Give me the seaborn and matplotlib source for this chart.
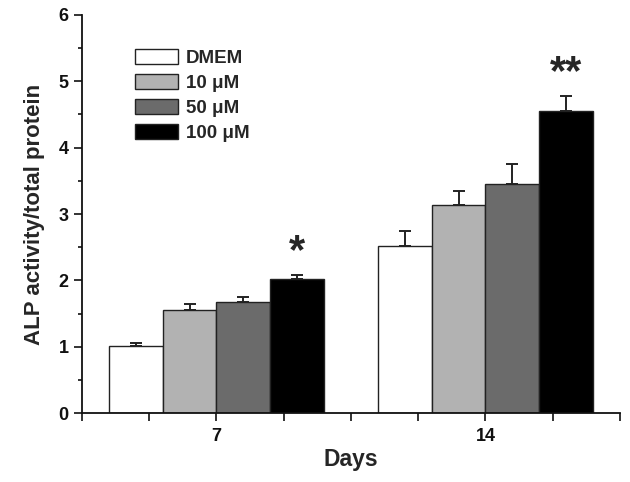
import numpy as np
import pandas as pd
import seaborn as sns
import matplotlib.pyplot as plt
from matplotlib.ticker import MultipleLocator

days = ['7', '14']
groups = ['DMEM', '10 \u03bcM', '50 \u03bcM', '100 \u03bcM']
means = {
    'DMEM': [1.01, 2.52],
    '10 \u03bcM': [1.56, 3.14],
    '50 \u03bcM': [1.67, 3.45],
    '100 \u03bcM': [2.02, 4.55],
}
errors = {
    'DMEM': [0.05, 0.23],
    '10 \u03bcM': [0.09, 0.21],
    '50 \u03bcM': [0.08, 0.30],
    '100 \u03bcM': [0.06, 0.23],
}
colors = ['#ffffff', '#b2b2b2', '#6b6b6b', '#000000']
stars = {'7': '*', '14': '**'}


def main():
    rows = []
    for g in groups:
        for i, d in enumerate(days):
            rows.append({'Days': d, 'group': g, 'value': means[g][i]})
    df = pd.DataFrame(rows)

    sns.set_style('ticks')
    plt.rcParams['font.family'] = ['Liberation Sans', 'DejaVu Sans']
    plt.rcParams['font.weight'] = 'bold'

    fig = plt.figure(figsize=(6.3, 4.82), dpi=100)
    ax = fig.add_axes([0.130, 0.143, 0.854, 0.826])
    sns.barplot(data=df, x='Days', y='value', hue='group', order=days,
                hue_order=groups, palette=colors, edgecolor='#222222',
                linewidth=1.0, width=0.8, errorbar=None, saturation=1,
                ax=ax)
    bar_conts = list(ax.containers)

    # one-sided error bars on top of each bar
    for g, cont in zip(groups, bar_conts):
        xs = [p.get_x() + p.get_width() / 2 for p in cont]
        hs = [p.get_height() for p in cont]
        errs = errors[g]
        ax.errorbar(xs, hs, yerr=[np.zeros(len(errs)), errs], fmt='none',
                    ecolor='#222222', elinewidth=1.4, capsize=4,
                    capthick=1.4, zorder=1)

    # significance marks above the 100 uM bars
    last = bar_conts[-1]
    for i, d in enumerate(days):
        p = last[i]
        top = p.get_height() + errors['100 \u03bcM'][i]
        ax.text(p.get_x() + p.get_width() / 2, top + 0.04, stars[d],
                ha='center', va='bottom', fontsize=30, fontweight='bold')

    ax.set_xlim(-0.5, 1.5)
    ax.set_ylim(0, 6)
    ax.yaxis.set_major_locator(MultipleLocator(1))
    ax.yaxis.set_minor_locator(MultipleLocator(0.5))
    ax.xaxis.set_minor_locator(MultipleLocator(0.25))
    ax.tick_params(axis='both', which='both', direction='out', width=1.2,
                   labelsize=13, colors='#111111')
    ax.tick_params(axis='both', which='major', length=6)
    ax.tick_params(axis='x', which='major', pad=5)
    ax.tick_params(axis='x', which='minor', length=6)
    ax.tick_params(axis='y', which='minor', length=3)
    for lab in ax.get_xticklabels() + ax.get_yticklabels():
        lab.set_fontweight('bold')
    for s in ['left', 'bottom']:
        ax.spines[s].set_linewidth(1.3)
        ax.spines[s].set_color('#111111')
    sns.despine(ax=ax)

    ax.set_xlabel('Days', fontsize=16.5, fontweight='bold', labelpad=2)
    ax.set_ylabel('ALP activity/total protein', fontsize=16,
                  fontweight='bold', labelpad=10)

    ax.legend(loc='upper left', bbox_to_anchor=(0.098, 0.915), frameon=False,
              prop={'size': 13.5, 'weight': 'bold'}, handlelength=2.3,
              handleheight=0.9, labelspacing=0.36, handletextpad=0.45,
              borderpad=0, borderaxespad=0)

    fig.savefig('out.png', dpi=100)
    plt.close(fig)


if __name__ == '__main__':
    main()
